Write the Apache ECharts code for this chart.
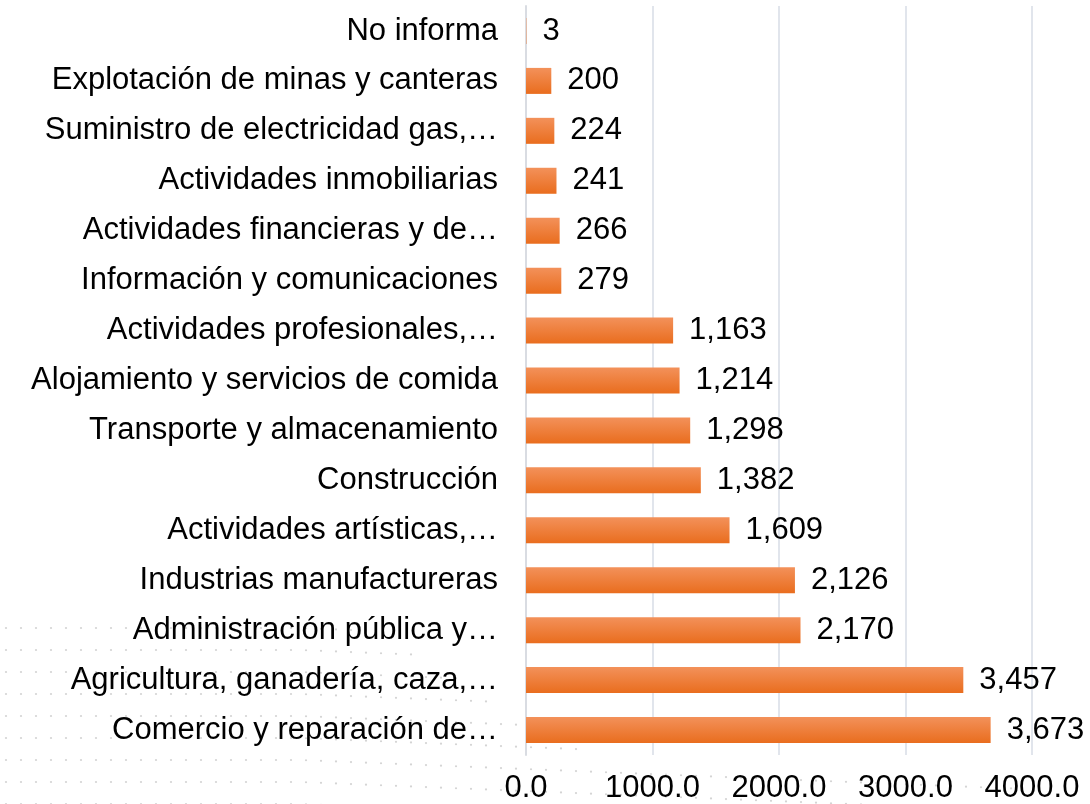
<!DOCTYPE html>
<html>
<head>
<meta charset="utf-8">
<script src="https://cdn.jsdelivr.net/npm/echarts@6/dist/echarts.min.js"></script>
<style>
  html, body { margin: 0; padding: 0; background: #fff; }
  #main { width: 1090px; height: 804px; }
</style>
</head>
<body>
<div id="main"></div>
<script>
// top to bottom as shown
const categories = [
  'No informa',
  'Explotación de minas y canteras',
  'Suministro de electricidad gas,…',
  'Actividades inmobiliarias',
  'Actividades financieras y de…',
  'Información y comunicaciones',
  'Actividades profesionales,…',
  'Alojamiento y servicios de comida',
  'Transporte y almacenamiento',
  'Construcción',
  'Actividades artísticas,…',
  'Industrias manufactureras',
  'Administración pública y…',
  'Agricultura, ganadería, caza,…',
  'Comercio y reparación de…'
];
const values = [3, 200, 224, 241, 266, 279, 1163, 1214, 1298, 1382, 1609, 2126, 2170, 3457, 3673];

const font = '"Liberation Sans", Arial, sans-serif';
let chart = echarts.init(document.getElementById('main'));

// faint dotted decoration in the lower left corner
let dots = [];
for (let r = 0; r < 9; r++) {
  let y = 628 + r * 22;
  let xEnd = 380 + r * 40 + (r > 5 ? 400 : 0);
  for (let x = 6; x < xEnd && x < 1090; x += 15) {
    dots.push({
      type: 'circle',
      silent: true,
      shape: { cx: x, cy: y + (x > 300 ? (x - 300) * 0.04 : 0), r: 1.1 },
      style: { fill: '#d4d4d4' }
    });
  }
}

chart.setOption({
  animation: false,
  graphic: [{ type: 'group', z: -10, children: dots }],
  grid: { left: 526, right: 58, top: 6, bottom: 47 },
  xAxis: {
    type: 'value',
    min: 0,
    max: 4000,
    interval: 1000,
    axisLine: { show: false },
    axisTick: { show: false },
    splitLine: { lineStyle: { color: '#e1e5ec', width: 2 } },
    axisLabel: {
      color: '#000',
      fontSize: 31,
      fontFamily: font,
      margin: 18,
      formatter: function (v) { return v.toFixed(1); }
    }
  },
  yAxis: {
    type: 'category',
    inverse: true,
    data: categories,
    axisLine: { show: true, lineStyle: { color: '#d9dce2', width: 2 } },
    axisTick: { show: false },
    axisLabel: { color: '#000', fontSize: 31, fontFamily: font, margin: 28 }
  },
  series: [{
    type: 'bar',
    data: values,
    barWidth: 26,
    itemStyle: {
      color: new echarts.graphic.LinearGradient(0, 0, 0, 1, [
        { offset: 0, color: '#f3915a' },
        { offset: 1, color: '#e96d1e' }
      ])
    },
    label: {
      show: true,
      position: 'right',
      distance: 16,
      color: '#000',
      fontSize: 31,
      fontFamily: font,
      formatter: function (p) { return p.value.toLocaleString('en-US'); }
    }
  }]
});
</script>
</body>
</html>
